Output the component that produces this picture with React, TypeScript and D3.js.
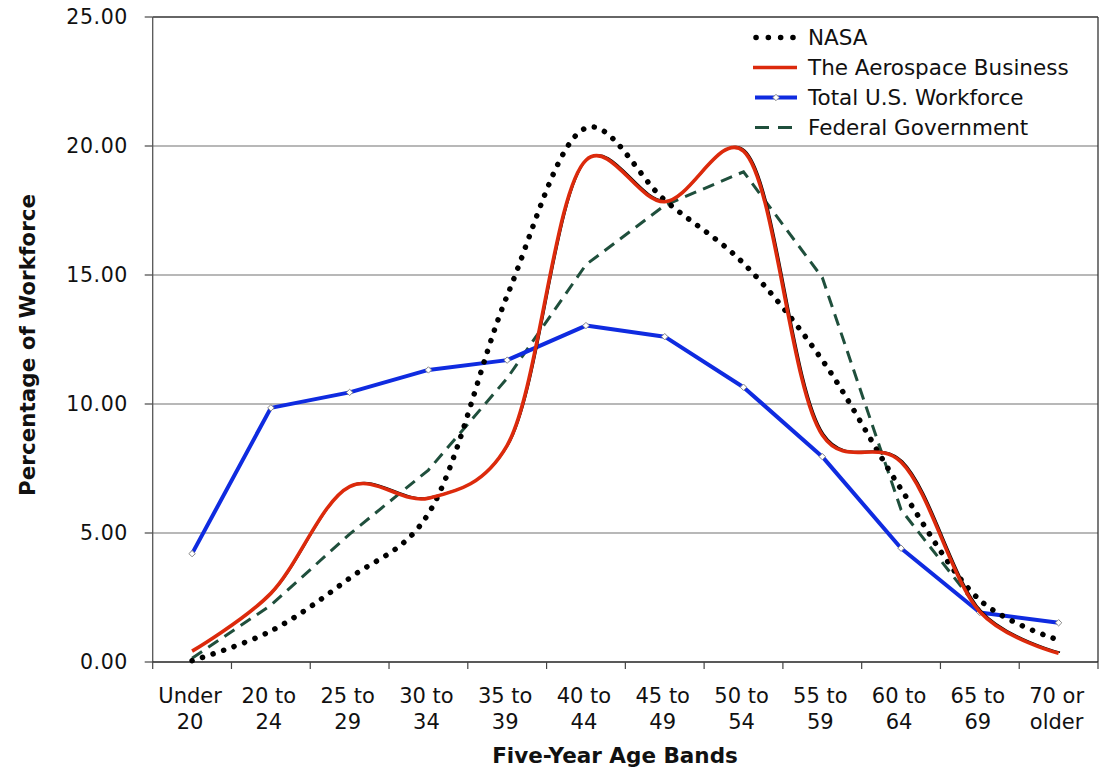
import React from "react";
import * as d3 from "d3";

const categories = ["Under 20", "20 to 24", "25 to 29", "30 to 34", "35 to 39", "40 to 44", "45 to 49", "50 to 54", "55 to 59", "60 to 64", "65 to 69", "70 or older"];
const categoryLines = [["Under", "20"], ["20 to", "24"], ["25 to", "29"], ["30 to", "34"], ["35 to", "39"], ["40 to", "44"], ["45 to", "49"], ["50 to", "54"], ["55 to", "59"], ["60 to", "64"], ["65 to", "69"], ["70 or", "older"]];

const nasa = [0.05, 1.2, 3.25, 5.75, 14.2, 20.7, 17.9, 15.45, 11.7, 6.7, 2.4, 0.85];
const aerospace = [0.42, 2.66, 6.8, 6.35, 8.4, 19.45, 17.84, 19.8, 8.8, 7.75, 1.95, 0.34];
const totalUS = [4.2, 9.85, 10.45, 11.32, 11.7, 13.04, 12.61, 10.65, 7.96, 4.41, 1.92, 1.52];
const federal: (number | null)[] = [0.15, 2.2, 4.96, 7.44, 11.0, 15.4, 17.7, 19.0, 14.9, 5.9, 2.0, null];

const yTicks = [0, 5, 10, 15, 20, 25];
const legendItems = ["NASA", "The Aerospace Business", "Total U.S. Workforce", "Federal Government"];

const W = 1108;
const H = 768;
const left = 152.7;
const right = 1098;
const top = 17;
const bottom = 662;

const BLUE = "#0f2be0";
const RED = "#dc2a0c";
const GREEN = "#1f4f3c";
const FONT = "'DejaVu Sans', Verdana, sans-serif";

export default function App() {
  const x = d3.scalePoint<string>().domain(categories).range([left, right]).padding(0.5);
  const y = d3.scaleLinear().domain([0, 25]).range([bottom, top]);
  const step = x.step();

  type P = { c: string; v: number | null };
  const toPts = (arr: (number | null)[]): P[] => arr.map((v, i) => ({ c: categories[i], v }));

  const smooth = d3
    .line<P>()
    .defined((d) => d.v !== null)
    .x((d) => x(d.c) as number)
    .y((d) => y(d.v as number))
    .curve(d3.curveCatmullRom.alpha(0.25));
  const straight = d3
    .line<P>()
    .defined((d) => d.v !== null)
    .x((d) => x(d.c) as number)
    .y((d) => y(d.v as number));

  const bandEdges = d3.range(categories.length + 1).map((i) => left + i * step);

  const legendX0 = 755;
  const legendX1 = 797;
  const legendY = (i: number) => 37.5 + i * 30;

  return (
    <svg width={W} height={H} style={{ position: "absolute", left: 0, top: 0, background: "#fff" }} fontFamily={FONT}>
      {yTicks.filter((t) => t > 0 && t < 25).map((t) => (
        <line key={"g" + t} x1={left} x2={right} y1={y(t)} y2={y(t)} stroke="#a0a0a0" strokeWidth={1.3} />
      ))}
      <line x1={left} x2={right} y1={y(25)} y2={y(25)} stroke="#333" strokeWidth={1.3} />
      <line x1={right} x2={right} y1={y(25)} y2={y(0)} stroke="#333" strokeWidth={1.3} />
      <line x1={left} x2={left} y1={y(25)} y2={y(0)} stroke="#555" strokeWidth={1.3} />
      <line x1={left} x2={right} y1={y(0)} y2={y(0)} stroke="#222" strokeWidth={1.3} />
      {yTicks.map((t) => (
        <g key={"yt" + t}>
          <line x1={left - 8} x2={left} y1={y(t)} y2={y(t)} stroke="#555" strokeWidth={1.3} />
          <text x={128} y={y(t)} dy="0.36em" textAnchor="end" fontSize={20.5} letterSpacing={0.6} fill="#111">
            {t.toFixed(2)}
          </text>
        </g>
      ))}
      {bandEdges.map((bx, i) => (
        <line key={"xt" + i} x1={bx} x2={bx} y1={bottom} y2={bottom + 7} stroke="#444" strokeWidth={1.2} />
      ))}
      {categoryLines.map((lines, i) => (
        <text key={"xl" + i} x={(x(categories[i]) as number) - 2} y={702.5} textAnchor="middle" fontSize={21} fill="#111">
          <tspan x={(x(categories[i]) as number) - 2}>{lines[0]}</tspan>
          <tspan x={(x(categories[i]) as number) - 2} dy={26.3}>{lines[1]}</tspan>
        </text>
      ))}
      <text x={615} y={763} textAnchor="middle" fontSize={21.5} fontWeight="bold" fill="#111">
        Five-Year Age Bands
      </text>
      <text transform={`translate(35,345) rotate(-90)`} textAnchor="middle" fontSize={21.5} fontWeight="bold" fill="#111">
        Percentage of Workforce
      </text>

      <path d={straight(toPts(federal)) || ""} fill="none" stroke={GREEN} strokeWidth={3} strokeDasharray="12 7.5" />
      <path d={straight(toPts(totalUS)) || ""} fill="none" stroke={BLUE} strokeWidth={4} strokeLinejoin="round" />
      {totalUS.map((v, i) => {
        const cx = x(categories[i]) as number;
        const cy = y(v);
        return (
          <path key={"m" + i} d={`M${cx},${cy - 3.2}L${cx + 3.2},${cy}L${cx},${cy + 3.2}L${cx - 3.2},${cy}Z`} fill="#fff" stroke="#888" strokeWidth={1} />
        );
      })}
      <path d={smooth(toPts(nasa)) || ""} fill="none" stroke="#000" strokeWidth={5.5} strokeDasharray="0.1 11" strokeLinecap="round" />
      <path d={smooth(toPts(aerospace)) || ""} fill="none" stroke="#000" strokeWidth={1.6} transform="translate(1.4,-0.9)" />
      <path d={smooth(toPts(aerospace)) || ""} fill="none" stroke={RED} strokeWidth={3.6} />

      {legendItems.map((name, i) => {
        const ly = legendY(i);
        const mx = (legendX0 + legendX1) / 2;
        return (
          <g key={"lg" + i}>
            {i === 0 && (
              <line x1={legendX0 + 1} x2={legendX1} y1={ly} y2={ly} stroke="#000" strokeWidth={5.5} strokeDasharray="0.1 12.2" strokeLinecap="round" />
            )}
            {i === 1 && <line x1={legendX0 - 2} x2={legendX1} y1={ly} y2={ly} stroke={RED} strokeWidth={3.6} />}
            {i === 2 && (
              <g>
                <line x1={legendX0} x2={legendX1} y1={ly} y2={ly} stroke={BLUE} strokeWidth={4} />
                <path d={`M${mx},${ly - 3.2}L${mx + 3.2},${ly}L${mx},${ly + 3.2}L${mx - 3.2},${ly}Z`} fill="#fff" stroke="#888" strokeWidth={1} />
              </g>
            )}
            {i === 3 && <line x1={legendX0} x2={legendX1} y1={ly} y2={ly} stroke={GREEN} strokeWidth={3} strokeDasharray="14 9" />}
            <text x={808} y={ly} dy="0.36em" fontSize={21.5} fill="#111">
              {name}
            </text>
          </g>
        );
      })}
    </svg>
  );
}
